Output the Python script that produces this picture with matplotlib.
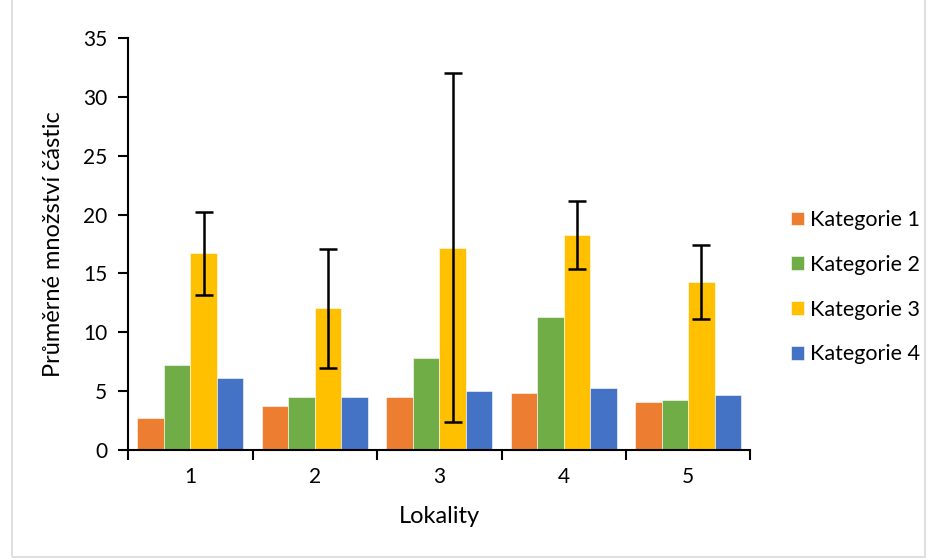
import numpy as np
import matplotlib.pyplot as plt
from matplotlib.patches import Rectangle

plt.rcParams['font.family'] = ['Lato', 'DejaVu Sans']

# data
lokality = ['1', '2', '3', '4', '5']
series_names = ['Kategorie 1', 'Kategorie 2', 'Kategorie 3', 'Kategorie 4']
kat1 = [2.75, 3.75, 4.5, 4.85, 4.05]
kat2 = [7.2, 4.5, 7.85, 11.3, 4.25]
kat3 = [16.7, 12.05, 17.2, 18.3, 14.25]
kat4 = [6.15, 4.5, 5.05, 5.25, 4.7]
kat3_err = [3.5, 5.05, 14.8, 2.9, 3.15]

colors = ['#ED7D31', '#70AD47', '#FFC000', '#4472C4']

fig = plt.figure(figsize=(9.36, 5.6), dpi=100)
ax = fig.add_axes([0.1368, 0.1964, 0.665, 0.7356])

x = np.arange(len(lokality))
width = 0.213
offsets = (np.arange(4) - 1.5) * width

for i, (vals, name) in enumerate(zip([kat1, kat2, kat3, kat4], series_names)):
    ax.bar(x + offsets[i], vals, width, color=colors[i], label=name,
           edgecolor='white', linewidth=0.4, zorder=2)

ax.errorbar(x + offsets[2], kat3, yerr=kat3_err, fmt='none', ecolor='black',
            elinewidth=1.8, capsize=6.5, capthick=1.8, zorder=3)

ax.set_xlim(-0.5, len(lokality) - 0.5)
ax.set_ylim(0, 35)
ax.set_yticks(np.arange(0, 36, 5))
ax.set_xticks(x)
ax.set_xticklabels(lokality)
ax.set_xticks(np.arange(-0.5, len(lokality)), minor=True)
ax.tick_params(axis='x', which='major', length=0, pad=12, labelsize=15)
ax.tick_params(axis='x', which='minor', length=7, width=1.5, direction='out')
ax.tick_params(axis='y', length=7, width=1.5, direction='out', pad=8, labelsize=15)

for side in ['top', 'right']:
    ax.spines[side].set_visible(False)
for side in ['left', 'bottom']:
    ax.spines[side].set_linewidth(1.5)

ax.set_xlabel('Lokality', fontsize=17, labelpad=14)
ax.set_ylabel('Průměrné množství částic', fontsize=17, labelpad=14)

ax.legend(loc='center left', bbox_to_anchor=(1.041, 0.395), frameon=False,
          fontsize=15.5, handlelength=0.6, handleheight=0.6,
          handletextpad=0.3, labelspacing=1.15, borderaxespad=0.3)

# light grey chart frame, like the Excel chart area
fig.patches.append(Rectangle((0.013, 0.006), 0.975, 1.2, transform=fig.transFigure,
                             fill=False, edgecolor='#D9D9D9', linewidth=1.2))

fig.savefig('out.png', dpi=100)
